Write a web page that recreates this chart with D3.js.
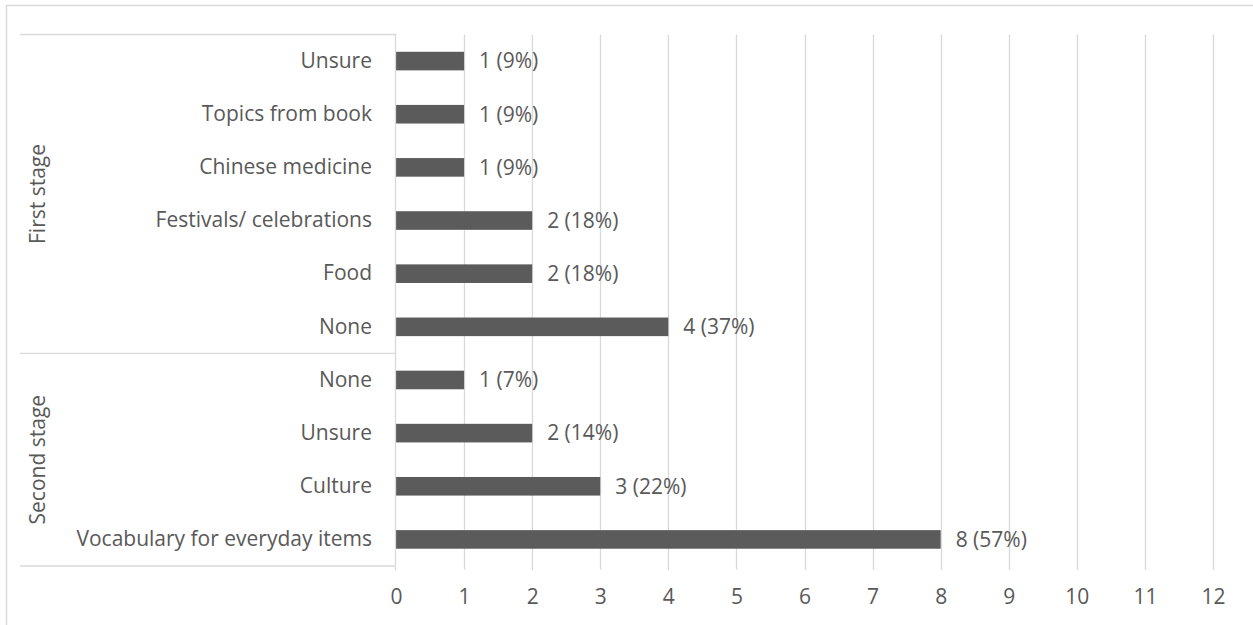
<!DOCTYPE html>
<html><head><meta charset="utf-8">
<script src="https://cdn.jsdelivr.net/npm/d3@7"></script>
<style>
html,body{margin:0;padding:0;background:#fff;}
text{font-family:"Open Sans","Noto Sans",sans-serif;fill:#595959;}
</style></head>
<body><svg id="chart" width="1253" height="625"></svg>
<script>
const groups = ["First stage","First stage","First stage","First stage","First stage","First stage","Second stage","Second stage","Second stage","Second stage"];
const categories = ["Unsure","Topics from book","Chinese medicine","Festivals/ celebrations","Food","None","None","Unsure","Culture","Vocabulary for everyday items"];
const values = [1,1,1,2,2,4,1,2,3,8];
const labels = ["1 (9%)","1 (9%)","1 (9%)","2 (18%)","2 (18%)","4 (37%)","1 (7%)","2 (14%)","3 (22%)","8 (57%)"];
const xTicks = [0,1,2,3,4,5,6,7,8,9,10,11,12];
const groupNames = ["First stage","Second stage"];

(function(){
const FS = "21px";
const svg = d3.select("#chart");
const pLeft = 396, pRight = 1213, pTop = 34.5, pBottom = 566;
const ids = categories.map((c,i)=>i);
const x = d3.scaleLinear().domain([0,12]).range([pLeft,pRight]);
const y = d3.scaleBand().domain(ids).range([pTop,pBottom]).paddingInner(0.65).paddingOuter(0.325);
const grid = "#d9d9d9";

// outer frame (top & left visible)
svg.append("line").attr("x1",6).attr("x2",1253).attr("y1",5.5).attr("y2",5.5).attr("stroke",grid).attr("stroke-width",1.5);
svg.append("line").attr("x1",6.5).attr("x2",6.5).attr("y1",5).attr("y2",625).attr("stroke",grid).attr("stroke-width",1.5);

// gridlines
svg.append("g").selectAll("line").data(xTicks.slice(1)).join("line")
  .attr("x1",d=>Math.round(x(d))+0.5).attr("x2",d=>Math.round(x(d))+0.5)
  .attr("y1",pTop).attr("y2",pBottom+4).attr("stroke",grid).attr("stroke-width",1.3);

// x axis
const xa = svg.append("g").attr("transform",`translate(0,${pBottom})`)
  .call(d3.axisBottom(x).tickValues(xTicks).tickSize(0).tickPadding(23));
xa.select(".domain").remove();
xa.selectAll("text").style("font-size",FS).attr("fill","#595959").style("font-family",'"Open Sans",sans-serif');

// bars
svg.append("g").selectAll("rect").data(ids).join("rect")
  .attr("x",x(0)).attr("y",i=>y(i)).attr("width",i=>x(values[i])-x(0)).attr("height",y.bandwidth())
  .attr("fill","#5b5b5b");

// value labels
svg.append("g").selectAll("text").data(ids).join("text")
  .attr("x",i=>x(values[i])+15).attr("y",i=>y(i)+y.bandwidth()/2).attr("dy","0.35em")
  .style("font-size",FS).text(i=>labels[i]);

// category axis
const ya = svg.append("g").attr("transform",`translate(${pLeft},0)`)
  .call(d3.axisLeft(y).tickFormat(i=>categories[i]).tickSize(0).tickPadding(24));
ya.select(".domain").remove();
ya.selectAll("text").style("font-size",FS).attr("fill","#595959").style("font-family",'"Open Sans",sans-serif');
svg.append("line").attr("x1",pLeft-0.5).attr("x2",pLeft-0.5).attr("y1",pTop).attr("y2",pBottom+4).attr("stroke",grid).attr("stroke-width",1.3);

// group boundaries
const step = y.step();
const bounds = [pTop];
groupNames.forEach(g=>{ const last = groups.lastIndexOf(g); bounds.push(pTop + (last+1)*step); });
svg.append("g").selectAll("line").data(bounds).join("line")
  .attr("x1",20).attr("x2",pLeft).attr("y1",d=>d).attr("y2",d=>d).attr("stroke",grid).attr("stroke-width",1.3);

// group labels
groupNames.forEach((g,k)=>{
  const cy = (bounds[k]+bounds[k+1])/2;
  svg.append("text").attr("transform",`translate(38,${cy}) rotate(-90)`).attr("text-anchor","middle").attr("dy","0.35em")
    .style("font-size",FS).text(g);
});
})();
</script></body></html>
